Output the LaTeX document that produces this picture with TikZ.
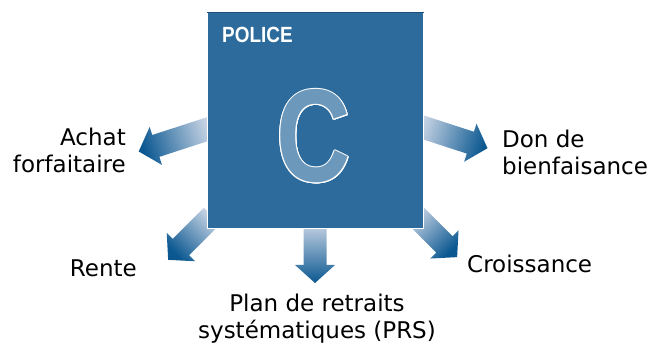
\documentclass[tikz,border=0pt]{standalone}
\usepackage{fontspec}
\usepackage{contour}
\setmainfont{DejaVu Sans}
\newfontfamily\boxfont[FakeStretch=0.86]{Liberation Sans}
\newfontfamily\letterfont[FakeStretch=0.78]{Liberation Sans}
\usetikzlibrary{calc}

\definecolor{policeblue}{HTML}{2C6B9B}
\definecolor{policeedge}{HTML}{1D4F7A}
\definecolor{letterblue}{HTML}{6C98BC}
\definecolor{arrowlight}{HTML}{C9D5E5}
\definecolor{arrowdark}{HTML}{0B5891}

\tikzstyle{choice}=[font=\fontsize{23}{27}\selectfont, inner sep=0pt]
\tikzstyle{arrowshade}=[top color=arrowdark, bottom color=arrowlight]

% block arrow: start coordinate, direction, length
\newcommand{\outarrow}[3]{%
  \begin{scope}[shift={(#1)}, rotate=#2]
    \shade[arrowshade, shading angle=#2-90]
      (0,11.5) -- (#3-18,11.5) -- (#3-18,20) -- (#3,0)
      -- (#3-18,-20) -- (#3-18,-11.5) -- (0,-11.5) -- cycle;
  \end{scope}}

\begin{document}
\begin{tikzpicture}[x=1pt, y=1pt]
  \useasboundingbox (0,0) rectangle (657,343);

  % arrows leave from under the box
  \coordinate (achat-s) at (211,215);
  \coordinate (don-s) at (419,217);
  \coordinate (rente-s) at (212,127);
  \coordinate (prs-s) at (315,121);
  \coordinate (crois-s) at (414,129);
  \outarrow{achat-s}{198}{76}
  \outarrow{don-s}{-18}{72}
  \outarrow{rente-s}{225}{62}
  \outarrow{prs-s}{270}{61}
  \outarrow{crois-s}{-45}{61}

  % the policy box
  \node[draw=white, line width=1pt, fill=policeblue, minimum width=216, minimum height=216, inner sep=0pt] (box) at (315,222) {};
  \draw[policeedge, line width=1pt] (box.north west) -- (box.north east);
  \node[anchor=base west, inner sep=0pt, text=white, font=\boxfont\bfseries\fontsize{22}{22}\selectfont] (title) at (222,300) {POLICE};
  \contourlength{1pt}
  \node[anchor=base, inner sep=0pt, font=\letterfont\bfseries\fontsize{132}{132}\selectfont] (letter) at (314,161) {\contour{white}{\textcolor{letterblue}{C}}};

  % outcomes
  \node[choice, anchor=base east, align=right] (achat) at (126,170) {Achat\\forfaitaire};
  \node[choice, anchor=base west, align=left] (don) at (502,168) {Don de\\bienfaisance};
  \node[choice, anchor=base east] (rente) at (137,66) {Rente};
  \node[choice, anchor=base west] (crois) at (467,70) {Croissance};
  \node[choice, anchor=base, align=center] (prs) at (317,4) {Plan de retraits\\systématiques (PRS)};
\end{tikzpicture}
\end{document}
